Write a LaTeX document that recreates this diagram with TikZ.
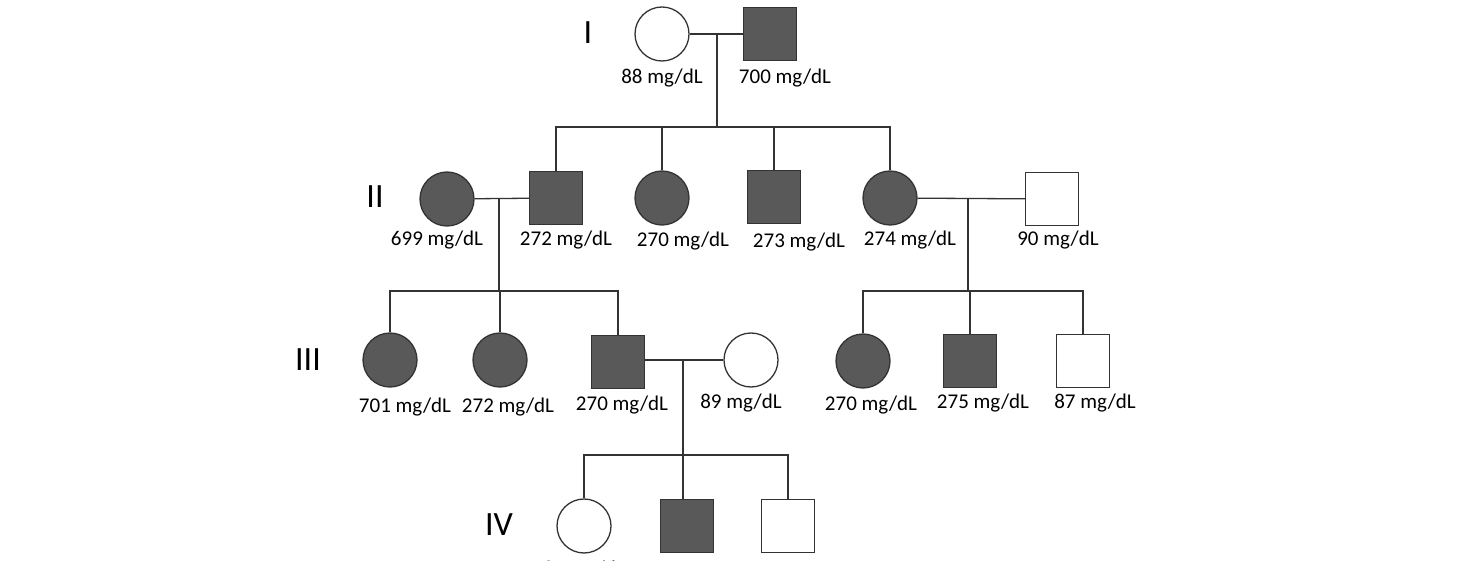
\documentclass[tikz,border=0pt]{standalone}
\usepackage{fontspec}
\setmainfont{Carlito}
\begin{document}
\begin{tikzpicture}[x=1pt,y=-1pt,
  ln/.style={draw=black!80, line width=1.3pt},
  fem/.style={circle, ln, minimum size=54pt, inner sep=0pt},
  mal/.style={rectangle, ln, minimum size=53pt, inner sep=0pt},
  aff/.style={fill=black!65},
  una/.style={fill=white},
  lbl/.style={font=\fontsize{21}{24}\selectfont, inner sep=0pt},
  gen/.style={font=\fontsize{34}{38}\selectfont, inner sep=0pt}]
\useasboundingbox (0,0) rectangle (1464,561);
\clip (0,0) rectangle (1464,561);
% generation labels
\node[gen] (gI) at (588,33) {I};
\node[gen] (gII) at (375,197) {II};
\node[gen] (gIII) at (308,360) {III};
\node[gen] (gIV) at (499,525) {IV};
% generation I
\node[fem,una] (i1) at (662,34) {};
\node[mal,aff] (i2) at (770,34) {};
\node[lbl] (li1) at (662,78) {88 mg/dL};
\node[lbl] (li2) at (785,78) {700 mg/dL};
% generation II
\node[fem,aff] (ii1) at (447,199) {};
\node[mal,aff] (ii2) at (556,198) {};
\node[fem,aff] (ii3) at (662,198) {};
\node[mal,aff] (ii4) at (774,197) {};
\node[fem,aff] (ii5) at (890,198) {};
\node[mal,una] (ii6) at (1052,199) {};
\node[lbl] (lii1) at (437,240) {699 mg/dL};
\node[lbl] (lii2) at (566,240) {272 mg/dL};
\node[lbl] (lii3) at (683,241) {270 mg/dL};
\node[lbl] (lii4) at (799,242) {273 mg/dL};
\node[lbl] (lii5) at (910,240) {274 mg/dL};
\node[lbl] (lii6) at (1058,240) {90 mg/dL};
% generation III
\node[fem,aff] (iii1) at (390,360) {};
\node[fem,aff] (iii2) at (500,360) {};
\node[mal,aff] (iii3) at (618,362) {};
\node[fem,una] (iii4) at (751,360) {};
\node[fem,aff] (iii5) at (863,361) {};
\node[mal,aff] (iii6) at (970,361) {};
\node[mal,una] (iii7) at (1083,361) {};
\node[lbl] (liii1) at (405,407) {701 mg/dL};
\node[lbl] (liii2) at (508,407) {272 mg/dL};
\node[lbl] (liii3) at (622,405) {270 mg/dL};
\node[lbl] (liii4) at (741,403) {89 mg/dL};
\node[lbl] (liii5) at (871,405) {270 mg/dL};
\node[lbl] (liii6) at (983,403) {275 mg/dL};
\node[lbl] (liii7) at (1095,403) {87 mg/dL};
% generation IV
\node[fem,una] (iv1) at (584,526) {};
\node[mal,aff] (iv2) at (687,526) {};
\node[mal,una] (iv3) at (788,526) {};
\node[lbl] (liv1) at (584,570) {84 mg/dL};
% couple I
\coordinate (c1) at (717,34);
\coordinate (s1) at (717,127);
\draw[ln] (i1) -- (i2);
\draw[ln] (c1) -- (s1);
\draw[ln] (ii2.north) -- (ii2.north |- s1) -- (ii5.north |- s1) -- (ii5.north);
\draw[ln] (ii3.north) -- (ii3.north |- s1);
\draw[ln] (ii4.north) -- (ii4.north |- s1);
% couple II-1 x II-2
\coordinate (c2) at (499,198);
\coordinate (s2) at (499,291);
\draw[ln] (ii1) -- (ii2);
\draw[ln] (c2) -- (s2);
\draw[ln] (iii1.north) -- (iii1.north |- s2) -- (iii3.north |- s2) -- (iii3.north);
\draw[ln] (iii2.north) -- (iii2.north |- s2);
% couple II-5 x II-6
\coordinate (c3) at (968,198);
\coordinate (s3) at (968,291);
\draw[ln] (ii5) -- (ii6);
\draw[ln] (c3) -- (s3);
\draw[ln] (iii5.north) -- (iii5.north |- s3) -- (iii7.north |- s3) -- (iii7.north);
\draw[ln] (iii6.north) -- (iii6.north |- s3);
% couple III-3 x III-4
\coordinate (c4) at (683,360);
\coordinate (s4) at (683,455);
\draw[ln] (iii3.east |- c4) -- (iii4.west);
\draw[ln] (c4) -- (s4);
\draw[ln] (iv1.north) -- (iv1.north |- s4) -- (iv3.north |- s4) -- (iv3.north);
\draw[ln] (iv2.north -| s4) -- (s4);
\end{tikzpicture}
\end{document}
